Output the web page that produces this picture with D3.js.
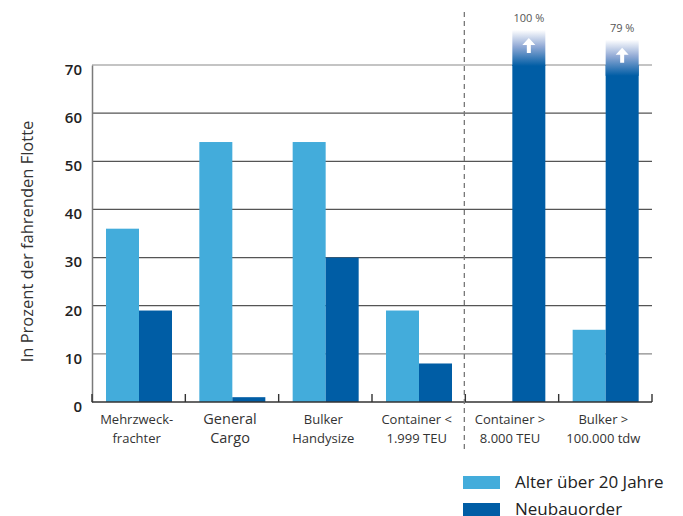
<!DOCTYPE html>
<html>
<head>
<meta charset="utf-8">
<script src="https://cdn.jsdelivr.net/npm/d3@7"></script>
<style>
  body { margin: 0; background: #fff; }
  svg { display: block; font-family: 'Open Sans', 'DejaVu Sans', sans-serif; }
</style>
</head>
<body>
<svg id="chart" width="683" height="516"></svg>
<script>
// categories (two-line labels) and the two series, in percent of active fleet
const categories = ['Mehrzweck-\nfrachter', 'General\nCargo', 'Bulker\nHandysize', 'Container <\n1.999 TEU', 'Container >\n8.000 TEU', 'Bulker >\n100.000 tdw'];
const seriesNames = ['Alter über 20 Jahre', 'Neubauorder'];
const ageOver20 = [36, 54, 54, 19, 0, 15];
const newOrders = [19, 1, 30, 8, 100, 79];
const yTicks = [0, 10, 20, 30, 40, 50, 60, 70];

const COLORS = ['#43acdb', '#005da5'];
const PLOT = { left: 92, right: 652, top: 65, bottom: 402 };
const Y_MAX = 70;

const svg = d3.select('#chart');

const x0 = d3.scaleBand().domain(categories).range([PLOT.left, PLOT.right]);
const x1 = d3.scaleBand().domain(seriesNames).range([14, 80]);
const y = d3.scaleLinear().domain([0, Y_MAX]).range([PLOT.bottom, PLOT.top]);
// values above the axis maximum get a faded cap whose top follows this scale
const overflow = d3.scaleLinear().domain([Y_MAX, 100]).range([44, 30]);

const defs = svg.append('defs');
const grad = defs.append('linearGradient').attr('id', 'fade').attr('x1', 0).attr('y1', 0).attr('x2', 0).attr('y2', 1);
grad.append('stop').attr('offset', '0%').attr('stop-color', '#ffffff');
grad.append('stop').attr('offset', '45%').attr('stop-color', '#93abd6');
grad.append('stop').attr('offset', '100%').attr('stop-color', COLORS[1]);

// gridlines
svg.append('g')
  .selectAll('line')
  .data(yTicks.filter((d) => d > 0))
  .enter()
  .append('line')
  .attr('x1', PLOT.left)
  .attr('x2', PLOT.right)
  .attr('y1', (d) => y(d))
  .attr('y2', (d) => y(d))
  .attr('stroke', (d) => (d === Y_MAX || d === 10 ? '#8a8a8a' : '#555'))
  .attr('stroke-width', 1.2);

// y axis labels
const yAxis = svg.append('g')
  .attr('transform', `translate(${PLOT.left},0)`)
  .call(d3.axisLeft(y).tickValues(yTicks).tickSize(0).tickPadding(10));
yAxis.select('.domain').attr('stroke', '#7a7a7a').attr('stroke-width', 1.5);
yAxis.selectAll('text')
  .attr('font-family', "'Open Sans', sans-serif")
  .attr('font-size', 15)
  .attr('font-weight', 600)
  .attr('fill', '#222')
  .attr('dy', '0.62em');

svg.append('text')
  .attr('transform', `translate(33,${(PLOT.top + PLOT.bottom) / 2 + 8}) rotate(-90)`)
  .attr('text-anchor', 'middle')
  .attr('font-size', 16.5)
  .attr('fill', '#333')
  .text('In Prozent der fahrenden Flotte');

// bars
const rows = categories.map((c, i) => ({ cat: c, values: [ageOver20[i], newOrders[i]] }));
const groups = svg.append('g')
  .selectAll('g')
  .data(rows)
  .enter()
  .append('g')
  .attr('transform', (d) => `translate(${x0(d.cat)},0)`);

groups.selectAll('rect.bar')
  .data((d) => d.values.map((v, j) => ({ v, s: seriesNames[j], j })))
  .enter()
  .append('rect')
  .attr('class', 'bar')
  .attr('x', (d) => x1(d.s))
  .attr('y', (d) => y(Math.min(d.v, Y_MAX)))
  .attr('width', x1.bandwidth())
  .attr('height', (d) => PLOT.bottom - y(Math.min(d.v, Y_MAX)))
  .attr('fill', (d) => COLORS[d.j]);

// overflow caps with arrow and value label
const over = groups.selectAll('g.over')
  .data((d) => d.values.map((v, j) => ({ v, s: seriesNames[j], j })).filter((d) => d.v > Y_MAX))
  .enter()
  .append('g')
  .attr('class', 'over');

over.append('rect')
  .attr('x', (d) => x1(d.s))
  .attr('y', (d) => overflow(d.v))
  .attr('width', x1.bandwidth())
  .attr('height', 36)
  .attr('fill', 'url(#fade)');

over.append('path')
  .attr('d', (d) => {
    const cx = x1(d.s) + x1.bandwidth() / 2;
    const t = overflow(d.v) + 8;
    return `M${cx},${t} L${cx + 6.5},${t + 7} L${cx + 2},${t + 7} L${cx + 2},${t + 15} L${cx - 2},${t + 15} L${cx - 2},${t + 7} L${cx - 6.5},${t + 7} Z`;
  })
  .attr('fill', '#fff');

over.append('text')
  .attr('x', (d) => x1(d.s) + x1.bandwidth() / 2)
  .attr('y', (d) => overflow(d.v) - 8)
  .attr('text-anchor', 'middle')
  .attr('font-size', 11)
  .attr('fill', '#555')
  .text((d) => `${d.v} %`);

// x axis
const xAxis = svg.append('g')
  .attr('transform', `translate(0,${PLOT.bottom})`);
xAxis.append('line')
  .attr('x1', PLOT.left)
  .attr('x2', PLOT.right)
  .attr('stroke', '#333')
  .attr('stroke-width', 1.6);
xAxis.selectAll('line.tick')
  .data(categories.concat(['end']))
  .enter()
  .append('line')
  .attr('class', 'tick')
  .attr('x1', (d) => (d === 'end' ? PLOT.right : x0(d)))
  .attr('x2', (d) => (d === 'end' ? PLOT.right : x0(d)))
  .attr('y1', 0)
  .attr('y2', -8)
  .attr('stroke', '#333')
  .attr('stroke-width', 1.4);

const labels = xAxis.selectAll('text')
  .data(categories)
  .enter()
  .append('text')
  .attr('x', (d) => x0(d) + x0.bandwidth() / 2 - 2)
  .attr('y', 22)
  .attr('text-anchor', 'middle')
  .attr('font-size', (d) => (d.startsWith('General') ? 14.5 : 13))
  .attr('fill', '#333');
labels.selectAll('tspan')
  .data((d) => d.split('\n'))
  .enter()
  .append('tspan')
  .attr('x', function () { return this.parentNode.getAttribute('x'); })
  .attr('dy', (d, i) => (i === 0 ? 0 : 19))
  .text((d) => d);

// dashed separator between the two groups of ship types
svg.append('line')
  .attr('x1', x0(categories[4]) - 1)
  .attr('x2', x0(categories[4]) - 1)
  .attr('y1', 12)
  .attr('y2', 452)
  .attr('stroke', '#777')
  .attr('stroke-width', 1.3)
  .attr('stroke-dasharray', '5,4');

// legend
const legend = svg.append('g')
  .attr('transform', 'translate(463,476)')
  .selectAll('g')
  .data(seriesNames)
  .enter()
  .append('g')
  .attr('transform', (d, i) => `translate(0,${i * 27})`);
legend.append('rect')
  .attr('width', 37)
  .attr('height', 13)
  .attr('fill', (d, i) => COLORS[i]);
legend.append('text')
  .attr('x', 52)
  .attr('y', 12)
  .attr('font-size', 17)
  .attr('fill', '#222')
  .text((d) => d);
</script>
</body>
</html>
